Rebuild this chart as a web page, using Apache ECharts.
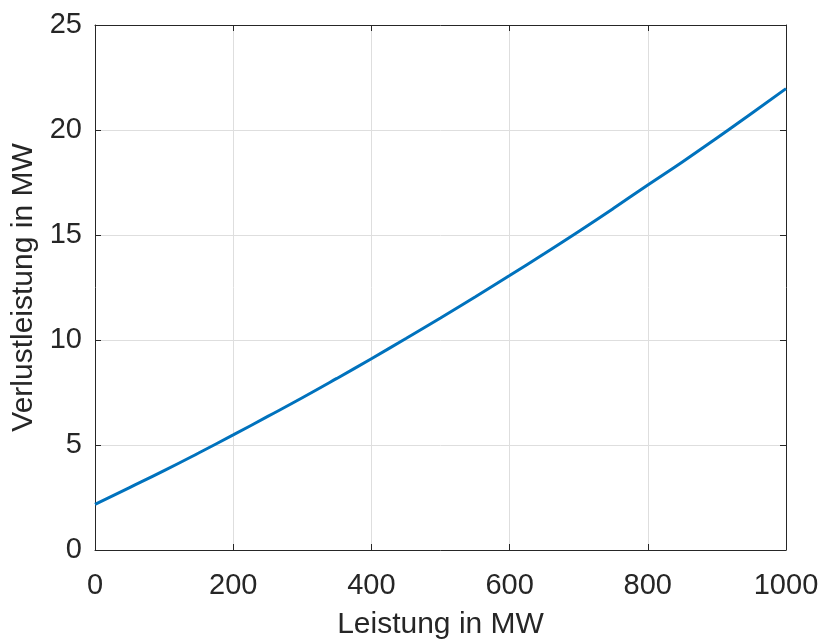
<!DOCTYPE html>
<html>
<head>
<meta charset="utf-8">
<script src="https://cdn.jsdelivr.net/npm/echarts@6/dist/echarts.min.js"></script>
<style>
  html, body { margin: 0; padding: 0; background: #ffffff; overflow: hidden; }
  #chart { width: 821px; height: 641px; }
</style>
</head>
<body>
<div id="chart"></div>
<script>
// Leistung (MW) and the matching Verlustleistung (MW)
const leistung = [0, 50, 100, 150, 200, 250, 300, 350, 400, 450, 500,
                  550, 600, 650, 700, 750, 800, 850, 900, 950, 1000];
const verlust = [2.17, 2.97, 3.78, 4.62, 5.48, 6.36, 7.25, 8.17, 9.11, 10.07, 11.05,
                 12.05, 13.07, 14.11, 15.17, 16.26, 17.38, 18.48, 19.62, 20.79, 21.97];

const xTicks = [0, 200, 400, 600, 800, 1000];
const yTicks = [0, 5, 10, 15, 20, 25];

const font = '"Liberation Sans", Arial, Helvetica, sans-serif';
const ink = '#262626';
const gridColor = '#dedede';

const chart = echarts.init(document.getElementById('chart'), null, { renderer: 'canvas', width: 821, height: 641 });

const points = leistung.map((x, i) => [x, verlust[i]]);

// top and right axes only close the box and carry inward ticks
const boxAxis = {
  axisLine: { show: true, onZero: false, lineStyle: { color: ink, width: 1 } },
  axisTick: { show: true, inside: true, length: 6, lineStyle: { color: ink, width: 1 } },
  axisLabel: { show: false },
  splitLine: { show: false }
};

chart.setOption({
  animation: false,
  backgroundColor: '#ffffff',
  grid: {
    left: 95, top: 25, width: 691, height: 525,
    containLabel: false,
    outerBoundsMode: 'none'
  },
  xAxis: [
    {
      type: 'value',
      min: xTicks[0],
      max: xTicks[xTicks.length - 1],
      interval: 200,
      position: 'bottom',
      name: 'Leistung in MW',
      nameLocation: 'middle',
      nameGap: 60,
      nameTextStyle: { color: ink, fontFamily: font, fontSize: 30 },
      axisLine: { show: true, onZero: false, lineStyle: { color: ink, width: 1 } },
      axisTick: { show: true, inside: true, length: 6, lineStyle: { color: ink, width: 1 } },
      axisLabel: { color: ink, fontFamily: font, fontSize: 29, margin: 21, formatter: v => String(v) },
      splitLine: { show: true, lineStyle: { color: gridColor, width: 1 } }
    },
    Object.assign({
      type: 'value',
      min: xTicks[0],
      max: xTicks[xTicks.length - 1],
      interval: 200,
      position: 'top'
    }, boxAxis)
  ],
  yAxis: [
    {
      type: 'value',
      min: yTicks[0],
      max: yTicks[yTicks.length - 1],
      interval: 5,
      position: 'left',
      name: 'Verlustleistung in MW',
      nameLocation: 'middle',
      nameGap: 56,
      nameRotate: 90,
      nameTextStyle: { color: ink, fontFamily: font, fontSize: 30 },
      axisLine: { show: true, onZero: false, lineStyle: { color: ink, width: 1 } },
      axisTick: { show: true, inside: true, length: 6, lineStyle: { color: ink, width: 1 } },
      axisLabel: { color: ink, fontFamily: font, fontSize: 29, margin: 13, formatter: v => String(v) },
      splitLine: { show: true, lineStyle: { color: gridColor, width: 1 } }
    },
    Object.assign({
      type: 'value',
      min: yTicks[0],
      max: yTicks[yTicks.length - 1],
      interval: 5,
      position: 'right'
    }, boxAxis)
  ],
  series: [
    {
      type: 'line',
      data: points,
      xAxisIndex: 0,
      yAxisIndex: 0,
      showSymbol: false,
      smooth: true,
      lineStyle: { color: '#0072BD', width: 3 },
      itemStyle: { color: '#0072BD' }
    }
  ]
});
</script>
</body>
</html>
